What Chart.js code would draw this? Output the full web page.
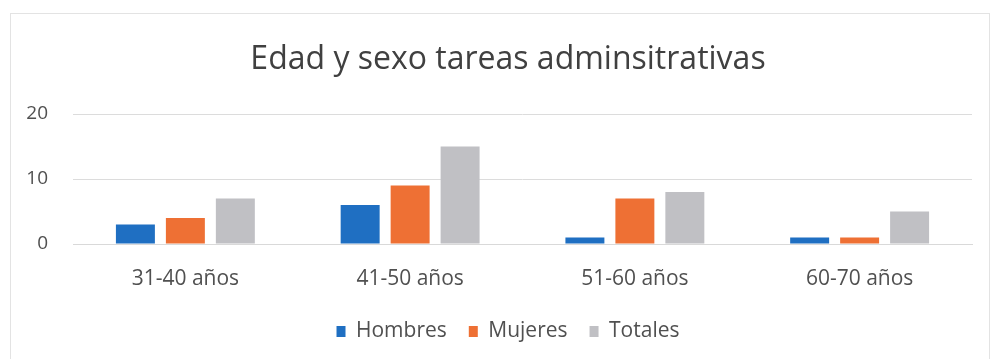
<!DOCTYPE html>
<html>
<head>
<meta charset="utf-8">
<script src="https://cdn.jsdelivr.net/npm/chart.js@4"></script>
<style>
  html, body { margin: 0; padding: 0; background: #fff; }
  #wrap { position: relative; width: 995px; height: 360px; }
  #frame { position: absolute; left: 10px; top: 13px; width: 978px; height: 345px; border: 1px solid #e3e3e3; border-bottom: none; }
  canvas { position: absolute; left: 0; top: 0; }
</style>
</head>
<body>
<div id="wrap">
  <div id="frame"></div>
  <canvas id="chart" width="995" height="360"></canvas>
</div>
<script>
// ---- data ----
const categories = ['31-40 años', '41-50 años', '51-60 años', '60-70 años'];
const hombres = [3, 6, 1, 1];
const mujeres = [4, 9, 7, 1];
const totales = [7, 15, 8, 5];
const yTicks = [0, 10, 20];

const FONT = '"Open Sans", "Liberation Sans", sans-serif';

// title and legend sit a little right of centre in the reference
const shiftBlocks = {
  id: 'shiftBlocks',
  afterLayout(chart) {
    [chart.titleBlock, chart.legend].forEach(b => { if (b) b.left += 44; });
  }
};

new Chart(document.getElementById('chart'), {
  type: 'bar',
  data: {
    labels: categories,
    datasets: [
      { label: 'Hombres', data: hombres, backgroundColor: '#1f6fc2' },
      { label: 'Mujeres', data: mujeres, backgroundColor: '#ee7034' },
      { label: 'Totales', data: totales, backgroundColor: '#c0c0c4' }
    ]
  },
  plugins: [shiftBlocks],
  options: {
    responsive: false,
    animation: false,
    datasets: { bar: { categoryPercentage: 0.667, barPercentage: 0.78 } },
    layout: { padding: { top: 14, right: 23, bottom: 8, left: 0 } },
    plugins: {
      title: {
        display: true,
        text: 'Edad y sexo tareas adminsitrativas',
        color: '#404040',
        font: { family: FONT, size: 32, weight: 'normal' },
        padding: { top: 27, bottom: 34.6 }
      },
      legend: {
        position: 'bottom',
        labels: {
          color: '#505050',
          font: { family: FONT, size: 21 },
          boxWidth: 9, boxHeight: 11, padding: 22
        }
      },
      tooltip: { enabled: false }
    },
    scales: {
      x: {
        grid: { display: false, drawTicks: false },
        border: { display: true, color: '#d9d9d9' },
        ticks: { color: '#505050', font: { family: FONT, size: 21 }, padding: 22 },
        afterFit: s => { s.height = 55; }
      },
      y: {
        min: yTicks[0], max: yTicks[yTicks.length - 1],
        afterBuildTicks: s => { s.ticks = yTicks.map(v => ({ value: v })); },
        grid: { color: '#dcdcdc', drawTicks: false },
        border: { display: false },
        ticks: { color: '#505050', font: { family: FONT, size: 19 }, padding: 25 },
        afterFit: s => { s.width = 73; }
      }
    }
  }
});
</script>
</body>
</html>
